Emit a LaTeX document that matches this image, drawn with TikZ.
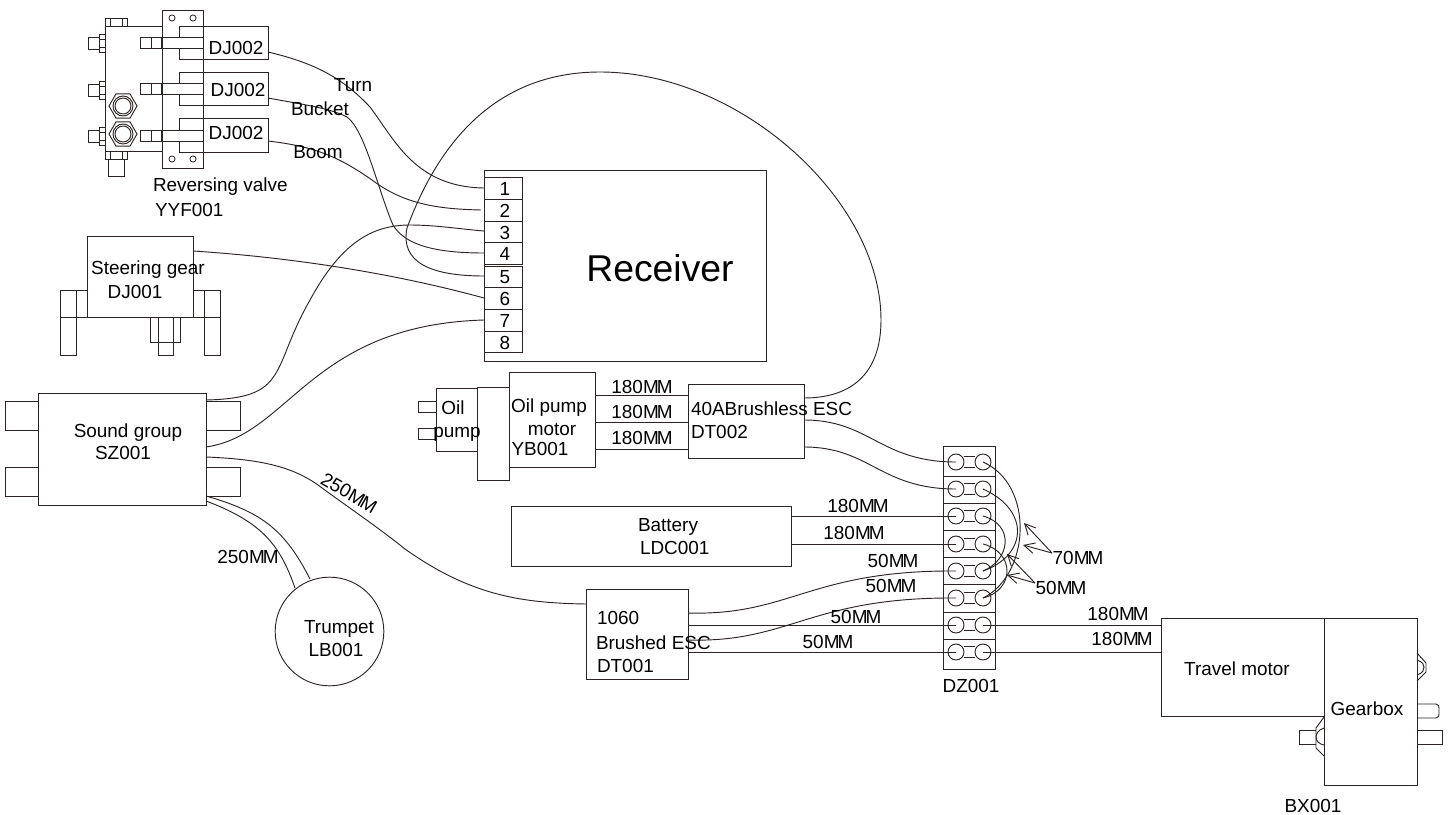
\documentclass[tikz,border=0pt]{standalone}
\usepackage{fontspec}
\setmainfont{Liberation Sans}
\usetikzlibrary{arrows.meta}
\definecolor{ink}{HTML}{2B2422}
\newcommand{\MMx}{M\kern-1.5pt M}
\newcommand{\bx}[5]{%
  \pgfmathsetmacro{\bw}{(#4-#2)*0.75}\pgfmathsetmacro{\bh}{(#5-#3)*0.75}%
  \node[boxn,minimum width=\bw pt,minimum height=\bh pt] (#1) at ({(#2+#4)/2},{(#3+#5)/2}) {};}
\tikzset{
  boxn/.style={draw=ink,line width=0.75pt,inner sep=0pt,outer sep=0pt},
  wire/.style={draw=ink,line width=0.7pt},
  part/.style={draw=ink,line width=0.7pt},
  lab/.style={inner sep=0pt,outer sep=0pt,text=black,font=\fontsize{14.2}{16}\selectfont},
  term/.style={draw=ink,line width=0.7pt,circle,minimum size=12pt,inner sep=0pt,outer sep=0pt},
  hole/.style={draw=ink,line width=0.6pt,circle,minimum size=4.6pt,inner sep=0pt},
  pt/.style={inner sep=0pt,outer sep=0pt,minimum size=0pt},
  dim/.style={draw=ink,line width=0.7pt,-{Straight Barb[length=8pt,width=8pt]}}
}
\begin{document}
\begin{tikzpicture}[x=0.75pt,y=-0.75pt]
\useasboundingbox (0,0) rectangle (1453,814);

%% Reversing valve
\path[part] (105,26) -- (162,26) (105,151) -- (162,151) (105,26) -- (105,151);
\bx{plate}{162}{10}{203}{168}
\foreach \n/\hx/\hy in {a/172/18,b/193/18,c/172/159,d/193/159}{\node[hole] (hole\n) at (\hx,\hy) {};}
\draw[part] (105,26) rectangle (127,18) (110,18) -- (110,26) (122,18) -- (122,26);
\draw[part] (105,151) rectangle (127,159) (110,151) -- (110,159) (122,151) -- (122,159);
\draw[part] (108,159) rectangle (124,176);
\foreach \yy in {43,90,136}{
  \draw[part] (88,\yy-6) rectangle (99,\yy+6);
  \draw[part] (99,\yy-9) rectangle (105,\yy+9) (99,\yy-4) -- (105,\yy-4) (99,\yy+4) -- (105,\yy+4);
}
\foreach \yt/\ya/\yb/\ybt in {26/37/48/59,72/83/94/105,118/130/141/152}{
  \draw[part] (203,\ya) -- (203,\yt) -- (268,\yt) -- (268,\ybt) -- (179,\ybt) -- (179,\yb);
  \draw[part] (179,\ya) -- (179,\yt) -- (203,\yt);
  \draw[part] (203,\ya) -- (140,\ya) -- (140,\yb) -- (203,\yb);
  \draw[part] (151,\ya) -- (151,\yb) (161,\ya) -- (161,\yb);
}
\foreach \cy in {106,134}{
  \draw[part] (123,\cy) ++(14,0) -- ++(120:14) -- ++(180:14) -- ++(240:14) -- ++(300:14) -- ++(0:14) -- cycle;
  \draw[part] (123,\cy) circle[radius=7.5pt] (123,\cy) circle[radius=6pt];
}
\coordinate (v1) at (268,52);
\coordinate (v2) at (268,98);
\coordinate (v3) at (268,141);

%% Receiver
\bx{recv}{484}{170}{766}{361}
\foreach \i/\ya/\yb in {1/177/199,2/199/221,3/221/242,4/242/264,5/266/287,6/287/309,7/309/331,8/331/352}{
  \bx{port\i}{484}{\ya}{522}{\yb}
  \node[lab] (portlab\i) at (505,{(\ya+\yb)/2+1}) {\i};
}
\coordinate (p1) at (484,188);
\coordinate (p2) at (481,210);
\coordinate (p3) at (484,231);
\coordinate (p4) at (484,253);
\coordinate (p5) at (484,276);
\coordinate (p6) at (484,298);
\coordinate (p7) at (484,320);

%% Steering gear
\bx{steer}{87}{236}{193}{317}
\draw[part] (87,290) -- (60,290) -- (60,355) -- (76,355) -- (76,290);
\draw[part] (193,290) -- (220,290) -- (220,355) -- (204,355) -- (204,290);
\draw[part] (60,317) -- (220,317);
\draw[part] (150,317) -- (150,342) -- (180,342) -- (180,317);
\draw[part] (158,317) -- (158,355) -- (173,355) -- (173,317);
\coordinate (s1) at (193,251);

%% Sound group
\bx{sound}{38}{393}{206}{505}
\bx{sgA}{5}{401}{38}{430}
\bx{sgB}{5}{467}{38}{496}
\bx{sgC}{206}{401}{240}{430}
\bx{sgD}{206}{467}{240}{496}
\coordinate (g1) at (206,400);
\coordinate (g2) at (206,447);
\coordinate (g3) at (206,457);
\coordinate (g4) at (206,496);
\coordinate (g5) at (206,501);

%% Trumpet
\node[draw=ink,line width=0.7pt,circle,minimum size=81.5pt,inner sep=0pt,outer sep=0pt] (trumpet) at (329.5,631.5) {};
\coordinate (horn1) at (310,579);
\coordinate (horn2) at (295,588);

%% Oil pump
\bx{pump}{436}{388}{477}{451}
\bx{pumpA}{418}{401}{436}{412}
\bx{pumpB}{418}{428}{436}{439}
\bx{coupler}{477}{387}{509}{480}
\bx{pmotor}{509}{372}{595}{467}
\bx{esctwo}{688}{384}{804}{458}
\foreach \i/\yy in {1/395,2/422,3/449}{
  \coordinate (ma\i) at (595,\yy);
  \coordinate (mb\i) at (688,\yy);
  \draw[wire] (ma\i) -- (mb\i);
}

%% Battery and brushed ESC
\bx{battery}{511}{506}{791}{566}
\bx{escone}{586}{589}{688}{679}
\coordinate (b1) at (791,516);
\coordinate (b2) at (791,544);
\coordinate (d0) at (586,604);

%% Terminal strip
\bx{strip}{943}{446}{995}{669}
\foreach \yy in {476,503,530,557,584,612,639}{\draw[part] (943,\yy) -- (995,\yy);}
\foreach \i/\yy in {1/462,2/489,3/516,4/544,5/571,6/598,7/625,8/652}{
  \node[term] (tl\i) at (956,\yy) {};
  \node[term] (tr\i) at (983,\yy) {};
  \draw[part] (964,\yy-5.5) -- (975,\yy-5.5) (964,\yy+5.5) -- (975,\yy+5.5);
}

%% Travel motor and gearbox
\bx{tmotor}{1161}{618}{1324}{716}
\bx{gearbox}{1324}{618}{1417}{785}
\draw[part] (1324,717) -- (1316,728) -- (1316,748) -- (1324,756);
\draw[part] (1324,728) .. controls (1318,730) and (1316,734) .. (1316,737) .. controls (1316,741) and (1319,744) .. (1324,745);
\draw[part] (1316,730) -- (1299,730) -- (1299,744) -- (1316,744);
\draw[part] (1417,653) -- (1426,663) -- (1426,672) -- (1417,681);
\draw[part] (1417,660) .. controls (1423,662) and (1424,665) .. (1424,667) .. controls (1424,670) and (1423,673) .. (1417,675);
\draw[part] (1417,704) -- (1436,704) .. controls (1439,704) and (1439,706) .. (1439,711) .. controls (1439,716) and (1439,718) .. (1436,718) -- (1417,718);
\draw[part] (1417,730) -- (1442,730) -- (1442,744) -- (1417,744);

%% Wires
\coordinate (e1) at (804,398);
\coordinate (e2) at (804,420);
\coordinate (e3) at (804,447);
\draw[wire] (v1) .. controls (310,62) and (340,75) .. (370,107) .. controls (395,140) and (415,187) .. (p1);
\draw[wire] (v2) .. controls (300,104) and (330,108) .. (347,117) .. controls (365,130) and (378,190) .. (393,225) .. controls (405,245) and (435,253) .. (p4);
\draw[wire] (v3) .. controls (310,146) and (335,154) .. (372,180) .. controls (405,205) and (440,209) .. (p2);
\draw[wire] (s1) .. controls (300,258) and (400,275) .. (p6);
\draw[wire] (g1) .. controls (290,398) and (270,370) .. (310,300) .. controls (340,245) and (370,225) .. (410,225) .. controls (435,225) and (460,229) .. (p3);
\draw[wire] (g2) .. controls (290,435) and (310,325) .. (p7);
\draw[wire] (g3) .. controls (255,459) and (290,465) .. (318,485) .. controls (345,505) and (375,525) .. (405,549) .. controls (470,595) and (520,603) .. (d0);
\draw[wire] (g4) .. controls (262,512) and (285,530) .. (horn1);
\draw[wire] (g5) .. controls (262,522) and (280,545) .. (horn2);
\draw[wire] (e1) .. controls (850,398) and (881,375) .. (881,320) .. controls (881,200) and (740,72) .. (600,72) .. controls (510,72) and (445,125) .. (407,228) .. controls (400,262) and (430,276) .. (p5);
\draw[wire] (e2) .. controls (870,420) and (880,462) .. (tl1.center);
\draw[wire] (e3) .. controls (870,447) and (880,489) .. (tl2.center);
\draw[wire] (b1) -- (tl3.center);
\draw[wire] (b2) -- (tl4.center);
\coordinate (d1) at (688,613);
\coordinate (d2) at (688,640);
\coordinate (d3) at (688,625);
\coordinate (d4) at (688,652);
\draw[wire] (d1) .. controls (790,616) and (810,570) .. (tl5.center);
\draw[wire] (d2) .. controls (790,643) and (810,597) .. (tl6.center);
\draw[wire] (d3) -- (tl7.center);
\draw[wire] (d4) -- (tl8.center);
\draw[wire] (tr7.center) -- (tr7.center -| tmotor.west);
\draw[wire] (tr8.center) -- (tr8.center -| tmotor.west);
\draw[wire] (tr1.center) .. controls (1035,485) and (1030,575) .. (tr6.center);
\draw[wire] (tr2.center) .. controls (1030,510) and (1028,555) .. (tr5.center);
\draw[wire] (tr3.center) .. controls (1015,525) and (1010,560) .. (tr5.center);
\draw[wire] (tr4.center) .. controls (1015,552) and (1015,590) .. (tr6.center);

%% Dimension arrows
\coordinate (a70) at (1052,553);
\coordinate (a50) at (1035,583);
\coordinate (h1) at (1024,523);
\coordinate (h2) at (1023,545);
\coordinate (h3) at (1007,554);
\coordinate (h4) at (1007,575);
\draw[dim] (a70) -- (h1);
\draw[dim] (a70) -- (h2);
\draw[dim] (a50) -- (h3);
\draw[dim] (a50) -- (h4);

%% Labels
\node[lab] (l1) at (236,48) {DJ002};
\node[lab] (l2) at (238,90) {DJ002};
\node[lab] (l3) at (236,133) {DJ002};
\node[lab] (l4) at (353,85) {Turn};
\node[lab] (l5) at (320,109) {Bucket};
\node[lab] (l6) at (318,152) {Boom};
\node[lab,anchor=west] (l7) at (153,187) {Reversing valve};
\node[lab,anchor=west] (l8) at (155,210) {YYF001};
\node[lab,font=\fontsize{28}{32}\selectfont] (l9) at (660,268) {Receiver};
\node[lab] (l10) at (148,270) {Steering gear};
\node[lab] (l11) at (135,292) {DJ001};
\node[lab] (l12) at (128,433) {Sound group};
\node[lab] (l13) at (123,453) {SZ001};
\node[lab] (l14) at (453,408) {Oil};
\node[lab] (l15) at (457,434) {pump};
\node[lab] (l16) at (549,408) {Oil pump};
\node[lab] (l17) at (552,429) {motor};
\node[lab] (l18) at (540,449) {YB001};
\node[lab] (l19) at (642,387) {180\MMx};
\node[lab] (l20) at (642,412) {180\MMx};
\node[lab] (l21) at (642,438) {180\MMx};
\node[lab,anchor=west] (l22) at (691,409) {40ABrushless ESC};
\node[lab,anchor=west] (l23) at (691,432) {DT002};
\node[lab] (l24) at (668,527) {Battery};
\node[lab,anchor=west] (l25) at (640,548) {LDC001};
\node[lab] (l26) at (858,506) {180\MMx};
\node[lab] (l27) at (854,533) {180\MMx};
\node[lab] (l28) at (893,561) {50\MMx};
\node[lab] (l29) at (891,586) {50\MMx};
\node[lab] (l30) at (856,617) {50\MMx};
\node[lab] (l31) at (828,642) {50\MMx};
\node[lab,anchor=west] (l32) at (597,618) {1060};
\node[lab,anchor=west] (l33) at (596,643) {Brushed ESC};
\node[lab,anchor=west] (l34) at (597,666) {DT001};
\node[lab,rotate=-30] (l35) at (349,493) {250\MMx};
\node[lab] (l36) at (248,557) {250\MMx};
\node[lab] (l37) at (339,629) {Trumpet};
\node[lab] (l38) at (336,650) {LB001};
\node[lab] (l39) at (1078,558) {70\MMx};
\node[lab] (l40) at (1061,588) {50\MMx};
\node[lab] (l41) at (1118,614) {180\MMx};
\node[lab] (l42) at (1122,639) {180\MMx};
\node[lab] (l43) at (971,686) {DZ001};
\node[lab] (l44) at (1237,669) {Travel motor};
\node[lab] (l45) at (1367,709) {Gearbox};
\node[lab] (l46) at (1313,806) {BX001};
\end{tikzpicture}
\end{document}
